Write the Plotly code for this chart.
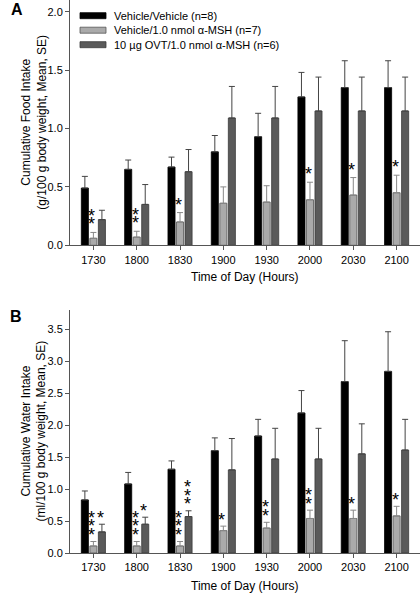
import plotly.graph_objects as go

# ---------------- data ----------------
times = ["1730", "1800", "1830", "1900", "1930", "2000", "2030", "2100"]
series_names = ["Vehicle/Vehicle (n=8)",
                "Vehicle/1.0 nmol \u03b1-MSH (n=7)",
                "10 \u00b5g OVT/1.0 nmol \u03b1-MSH (n=6)"]

# Panel A: cumulative food intake (g/100 g body weight)
food_veh = [0.49, 0.65, 0.67, 0.80, 0.93, 1.27, 1.35, 1.35]
food_veh_se = [0.10, 0.08, 0.085, 0.14, 0.20, 0.21, 0.23, 0.23]
food_msh = [0.06, 0.07, 0.20, 0.36, 0.37, 0.39, 0.43, 0.45]
food_msh_se = [0.05, 0.05, 0.08, 0.14, 0.14, 0.15, 0.15, 0.15]
food_ovt = [0.22, 0.35, 0.63, 1.09, 1.09, 1.15, 1.15, 1.15]
food_ovt_se = [0.08, 0.17, 0.19, 0.27, 0.27, 0.29, 0.29, 0.29]
food_msh_sig = ["**", "**", "*", "", "", "*", "*", "*"]
food_ovt_sig = ["", "", "", "", "", "", "", ""]

# Panel B: cumulative water intake (ml/100 g body weight)
water_veh = [0.83, 1.08, 1.31, 1.60, 1.83, 2.19, 2.68, 2.84]
water_veh_se = [0.14, 0.18, 0.13, 0.20, 0.26, 0.35, 0.64, 0.62]
water_msh = [0.11, 0.11, 0.11, 0.35, 0.39, 0.54, 0.54, 0.58]
water_msh_se = [0.07, 0.07, 0.07, 0.07, 0.09, 0.13, 0.13, 0.15]
water_ovt = [0.33, 0.45, 0.57, 1.30, 1.47, 1.47, 1.55, 1.61]
water_ovt_se = [0.12, 0.11, 0.09, 0.49, 0.48, 0.48, 0.47, 0.48]
water_msh_sig = ["***", "***", "***", "*", "**", "**", "*", "*"]
water_ovt_sig = ["*", "*", "***", "", "", "", "", ""]

# ---------------- style ----------------
W, H = 420, 594
ML, MR, MT, MB = 70, 0, 0, 41
FONT = "Liberation Sans, Arial, sans-serif"
fills = ["#000000", "#aaaaaa", "#5a5a5a"]
edges = ["#000000", "#555555", "#3a3a3a"]
errc = ["#444444", "#888888", "#444444"]
BARGAP = 0.41
OFF = (1 - BARGAP) / 3.0


def px_x(p):
    return (p - ML) / (W - ML - MR)


def px_y(p):
    return (H - MB - p) / (H - MT - MB)


fig = go.Figure()

panels = [
    ("x", "y", 8.0, [food_veh, food_msh, food_ovt],
     [food_veh_se, food_msh_se, food_ovt_se], [None, food_msh_sig, food_ovt_sig]),
    ("x2", "y2", 6.5, [water_veh, water_msh, water_ovt],
     [water_veh_se, water_msh_se, water_ovt_se], [None, water_msh_sig, water_ovt_sig]),
]

annotations = []
for xa, ya, base, vals, ses, sigs in panels:
    for k in range(3):
        fig.add_trace(go.Bar(
            x=times, y=vals[k], name=series_names[k], xaxis=xa, yaxis=ya,
            offsetgroup=str(k), showlegend=False,
            marker=dict(color=fills[k], line=dict(color=edges[k], width=0.8)),
            error_y=dict(type="data", array=ses[k], arrayminus=[0] * len(times),
                         symmetric=False, color=errc[k], thickness=1, width=3),
        ))
        if sigs[k] is None:
            continue
        for i, s in enumerate(sigs[k]):
            for j in range(len(s)):
                annotations.append(dict(
                    x=i + (k - 1) * OFF, y=vals[k][i] + ses[k][i],
                    xref=xa, yref=ya, text="*", showarrow=False,
                    xshift=-1.5, yshift=base + j * 8.5, yanchor="middle",
                    font=dict(size=18, color="black", family=FONT)))

axis_common = dict(showline=True, linecolor="#555555", linewidth=1,
                   ticks="outside", ticklen=4, tickcolor="#555555",
                   showgrid=False, zeroline=False,
                   tickfont=dict(size=11, color="black", family=FONT))

fig.update_layout(
    width=W, height=H,
    margin=dict(l=ML, r=MR, t=MT, b=MB),
    paper_bgcolor="white", plot_bgcolor="white",
    barmode="group", bargap=BARGAP, bargroupgap=0.17,
    font=dict(family=FONT, size=11, color="black"),
    xaxis=dict(domain=[0, 1], anchor="y", range=[-0.54, 7.54], type="category",
               **axis_common),
    yaxis=dict(domain=[px_y(245.3), 1], anchor="x", range=[0, 2.1], dtick=0.5,
               tickformat=".1f", **axis_common),
    xaxis2=dict(domain=[0, 1], anchor="y2", range=[-0.54, 7.54], type="category",
                **axis_common),
    yaxis2=dict(domain=[0, px_y(310)], anchor="x2", range=[0, 3.8], dtick=0.5,
                tickformat=".1f", **axis_common),
)

# axis titles and panel letters
annotations += [
    dict(text="Cumulative Food Intake<br>(g/100 g body weight, Mean, SE)",
         xref="paper", yref="y domain", x=px_x(17), y=0.5, textangle=-90,
         showarrow=False, font=dict(size=12, family=FONT, color="black")),
    dict(text="Cumulative Water Intake<br>(ml/100 g body weight, Mean, SE)",
         xref="paper", yref="y2 domain", x=px_x(17), y=0.5, textangle=-90,
         showarrow=False, font=dict(size=12, family=FONT, color="black")),
    dict(text="Time of Day (Hours)", xref="x domain", yref="paper", x=0.5,
         y=px_y(277), yanchor="middle", showarrow=False,
         font=dict(size=12, family=FONT, color="black")),
    dict(text="Time of Day (Hours)", xref="x2 domain", yref="paper", x=0.5,
         y=px_y(586), yanchor="middle", showarrow=False,
         font=dict(size=12, family=FONT, color="black")),
    dict(text="<b>A</b>", xref="paper", yref="paper", x=px_x(9), y=px_y(9),
         yanchor="middle", showarrow=False,
         font=dict(size=16, family=FONT, color="black")),
    dict(text="<b>B</b>", xref="paper", yref="paper", x=px_x(8), y=px_y(316),
         yanchor="middle", showarrow=False,
         font=dict(size=16, family=FONT, color="black")),
]

# manual legend (wide swatches like the original)
shapes = []
leg_y = [15.7, 30.2, 44.7]
for k in range(3):
    shapes.append(dict(type="rect", xref="paper", yref="paper",
                       x0=px_x(80), x1=px_x(106), y0=px_y(leg_y[k] + 3),
                       y1=px_y(leg_y[k] - 3), fillcolor=fills[k],
                       line=dict(color=edges[k], width=0.8)))
    annotations.append(dict(text=series_names[k], xref="paper", yref="paper",
                            x=px_x(112), y=px_y(leg_y[k]), xanchor="left",
                            yanchor="middle", showarrow=False,
                            font=dict(size=11, family=FONT, color="black")))

fig.update_layout(annotations=annotations, shapes=shapes)
fig.write_html("out.html", config={"displayModeBar": False},
               post_script="document.body.style.margin='0';"
                           "document.body.style.overflow='hidden';")
